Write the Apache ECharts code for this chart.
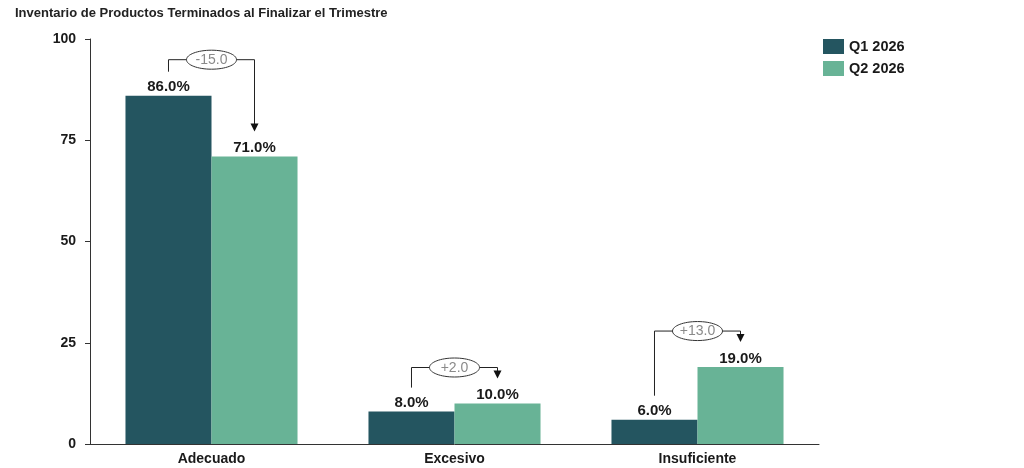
<!DOCTYPE html>
<html>
<head>
  <meta charset="utf-8">
  <title></title>
  <script src="https://cdn.jsdelivr.net/npm/echarts@6/dist/echarts.min.js"></script>
  <style>
    html, body { margin: 0; padding: 0; background: #fff; }
    #main { width: 1024px; height: 468px; }
  </style>
</head>
<body>
<div id="main"></div>
<script>
  var categories = ['Adecuado', 'Excesivo', 'Insuficiente'];
  var q1Values = [86.0, 8.0, 6.0];
  var q2Values = [71.0, 10.0, 19.0];
  var seriesNames = ['Q1 2026', 'Q2 2026'];
  var yTicks = [0, 25, 50, 75, 100];

  var colorQ1 = '#245560';
  var colorQ2 = '#68b396';
  var gapPct = 0.292;
  var font = '"Liberation Sans", Arial, sans-serif';

  // one row per category: [index, q1, q2, change]
  var diffRows = categories.map(function (c, i) {
    return [i, q1Values[i], q2Values[i], +(q2Values[i] - q1Values[i]).toFixed(1)];
  });

  function renderDiff(params, api) {
    var idx = api.value(0), v1 = api.value(1), v2 = api.value(2), d = api.value(3);
    var band = api.size([1, 0])[0];
    var off = band * (1 - gapPct) / 4;
    var c = api.coord([idx, 0]);
    var x1 = c[0] - off, x2 = c[0] + off, xm = c[0];
    var top1 = api.coord([idx, v1])[1];
    var top2 = api.coord([idx, v2])[1];
    var yb = Math.min(top1, top2) - 36;
    var yStart = top1 - 24;
    var yEnd = top2 - 25;
    var stroke = { stroke: '#222', lineWidth: 1, fill: null };
    var label = (d > 0 ? '+' : '') + d.toFixed(1);
    return {
      type: 'group',
      children: [
        { type: 'polyline', shape: { points: [[x1, yStart], [x1, yb], [x2, yb], [x2, yEnd - 7]] }, style: stroke },
        { type: 'polygon', shape: { points: [[x2 - 4, yEnd - 8], [x2 + 4, yEnd - 8], [x2, yEnd]] }, style: { fill: '#111' } },
        { type: 'ellipse', shape: { cx: xm, cy: yb, rx: 25, ry: 9.5 }, style: { fill: '#fff', stroke: '#333', lineWidth: 1 } },
        { type: 'text', x: xm, y: yb + 0.5, style: { text: label, fill: '#8a8a8a', font: '14px ' + font, align: 'center', verticalAlign: 'middle' } }
      ]
    };
  }

  var labelStyle = {
    show: true, position: 'top', distance: 1,
    formatter: function (p) { return p.value.toFixed(1) + '%'; },
    color: '#1a1a1a', fontWeight: 'bold', fontSize: 15, fontFamily: font
  };

  var myChart = echarts.init(document.getElementById('main'));
  myChart.setOption({
    animation: false,
    title: {
      text: 'Inventario de Productos Terminados al Finalizar el Trimestre',
      left: 10, top: 2,
      textStyle: { fontSize: 13, fontWeight: 'bold', color: '#222', fontFamily: font }
    },
    legend: {
      data: seriesNames,
      orient: 'vertical',
      left: 818, top: 34,
      itemWidth: 21, itemHeight: 15, itemGap: 7,
      icon: 'rect',
      textStyle: { fontSize: 14.5, fontWeight: 'bold', color: '#1a1a1a', fontFamily: font }
    },
    grid: { left: 90, right: 205, top: 39, bottom: 24, containLabel: false },
    xAxis: {
      type: 'category',
      data: categories,
      axisLine: { lineStyle: { color: '#333' } },
      axisTick: { show: false },
      axisLabel: { color: '#1a1a1a', fontSize: 14, fontWeight: 'bold', fontFamily: font, margin: 8 }
    },
    yAxis: {
      type: 'value',
      min: 0, max: 100, interval: 25,
      axisLine: { show: true, lineStyle: { color: '#333' } },
      axisTick: { show: true, length: 5, lineStyle: { color: '#333' } },
      splitLine: { show: false },
      axisLabel: {
        color: '#1a1a1a', fontSize: 14, fontWeight: 'bold', fontFamily: font, margin: 14,
        formatter: function (v) { return yTicks.indexOf(v) >= 0 ? String(v) : ''; }
      }
    },
    series: [
      {
        name: seriesNames[0], type: 'bar', data: q1Values,
        barGap: '0%', barCategoryGap: (gapPct * 100) + '%',
        itemStyle: { color: colorQ1 }, label: labelStyle
      },
      {
        name: seriesNames[1], type: 'bar', data: q2Values,
        itemStyle: { color: colorQ2 }, label: labelStyle
      },
      {
        type: 'custom', renderItem: renderDiff, data: diffRows,
        encode: { x: 0, y: 1 }, silent: true, z: 5
      }
    ]
  });
</script>
</body>
</html>
